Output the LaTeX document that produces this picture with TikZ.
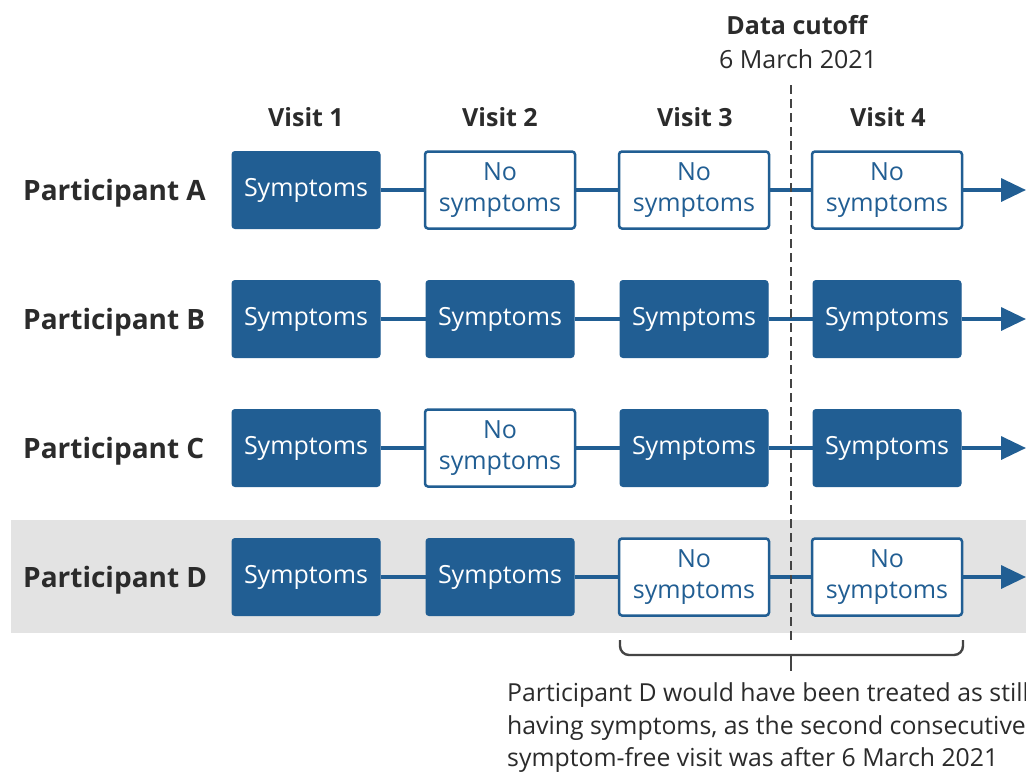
\documentclass[tikz,border=0pt]{standalone}
\usepackage{fontspec}
\setmainfont{Open Sans}
\usetikzlibrary{arrows.meta}
\definecolor{dblue}{HTML}{215E93}
\definecolor{band}{HTML}{E3E3E3}
\definecolor{txt}{HTML}{2B2B2B}
\definecolor{dgray}{HTML}{444444}
\begin{document}
\begin{tikzpicture}[x=1pt,y=-1pt,
  filled/.style={draw=dblue,fill=dblue,line width=1pt,rounded corners=3pt,minimum width=148pt,minimum height=77pt,inner sep=0pt,text=white,font=\fontsize{25}{31}\selectfont,align=center},
  empty/.style={draw=dblue,fill=white,line width=2.5pt,rounded corners=3pt,minimum width=150pt,minimum height=77pt,inner sep=0pt,text=dblue,font=\fontsize{25}{31}\selectfont,align=center},
  plabel/.style={anchor=base west,text=txt,font=\bfseries\fontsize{28}{32}\selectfont,inner sep=0pt},
  vlabel/.style={anchor=base,text=txt,font=\bfseries\fontsize{25}{30}\selectfont,inner sep=0pt},
  notestyle/.style={anchor=base west,text=txt,font=\fontsize{24.8}{30}\selectfont,inner sep=0pt},
  link/.style={dblue,line width=3.5pt},
  lastlink/.style={dblue,line width=3.5pt,-{Triangle[length=25pt,width=23pt]}}
]
\clip (0,0) rectangle (1026,774);
\fill[white] (0,0) rectangle (1026,774);
\fill[band] (11,520) rectangle (1026,633);

% headers
\node[vlabel] (v1) at (306,126) {Visit 1};
\node[vlabel] (v2) at (500,126) {Visit 2};
\node[vlabel] (v3) at (695,126) {Visit 3};
\node[vlabel] (v4) at (888,126) {Visit 4};
\node[vlabel] (dc) at (797,34) {Data cutoff};
\node[anchor=base,text=txt,font=\fontsize{25}{30}\selectfont,inner sep=0pt] (dd) at (798,68) {6 March 2021};

% row end coordinates
\coordinate (ea) at (1026,190);
\coordinate (eb) at (1026,319);
\coordinate (ec) at (1026,448);
\coordinate (ed) at (1026,577);

% Row A
\node[plabel] (pa) at (23,200) {Participant A};
\node[filled] (a1) at (306,190) {Symptoms};
\node[empty] (a2) at (500,190) {No\\symptoms};
\node[empty] (a3) at (694,190) {No\\symptoms};
\node[empty] (a4) at (887,190) {No\\symptoms};
% Row B
\node[plabel] (pb) at (23,329) {Participant B};
\node[filled] (b1) at (306,319) {Symptoms};
\node[filled] (b2) at (500,319) {Symptoms};
\node[filled] (b3) at (694,319) {Symptoms};
\node[filled] (b4) at (887,319) {Symptoms};
% Row C
\node[plabel] (pc) at (23,458) {Participant C};
\node[filled] (c1) at (306,448) {Symptoms};
\node[empty] (c2) at (500,448) {No\\symptoms};
\node[filled] (c3) at (694,448) {Symptoms};
\node[filled] (c4) at (887,448) {Symptoms};
% Row D
\node[plabel] (pd) at (23,587) {Participant D};
\node[filled] (d1) at (306,577) {Symptoms};
\node[filled] (d2) at (500,577) {Symptoms};
\node[empty] (d3) at (694,577) {No\\symptoms};
\node[empty] (d4) at (887,577) {No\\symptoms};

\foreach \r in {a,b,c,d}{
  \draw[link] (\r1) -- (\r2);
  \draw[link] (\r2) -- (\r3);
  \draw[link] (\r3) -- (\r4);
  \draw[lastlink] (\r4) -- (e\r);
}

% cutoff line
\coordinate (ctop) at (791,85);
\coordinate (cbot) at (791,640);
\draw[dgray,line width=2.6pt,dash pattern=on 9pt off 5pt] (ctop) -- (cbot);

% brace
\coordinate (bl) at (620,640);
\coordinate (br) at (963,640);
\coordinate (bt) at (791,671);
\draw[dgray,line width=2.4pt,rounded corners=9pt] (bl) -- (620,655) -- (963,655) -- (br);
\draw[dgray,line width=2.4pt] (791,655) -- (bt);

% note
\node[notestyle] (n1) at (507,701) {Participant D would have been treated as still};
\node[notestyle] (n2) at (507,734) {having symptoms, as the second consecutive};
\node[notestyle] (n3) at (507,766) {symptom-free visit was after 6 March 2021};
\end{tikzpicture}
\end{document}
